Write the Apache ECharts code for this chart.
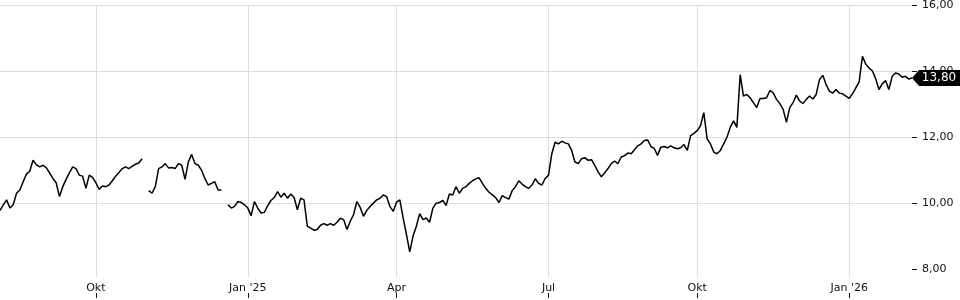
<!DOCTYPE html>
<html><head><meta charset="utf-8">
<script src="https://cdn.jsdelivr.net/npm/echarts@6/dist/echarts.min.js"></script>
<style>html,body{margin:0;padding:0;background:#fff}#c{width:960px;height:300px}</style>
</head><body><div id="c"></div>
<script>
const startDate = '2024-08-05';
const stepDays = 2;
const values = [
9.78, 9.95, 10.1, 9.85, 9.95, 10.3, 10.4, 10.65, 10.88, 10.97,
11.3, 11.17, 11.1, 11.15, 11.08, 10.92, 10.75, 10.62, 10.2, 10.5,
10.72, 10.92, 11.1, 11.05, 10.85, 10.82, 10.45, 10.85, 10.78, 10.62,
10.42, 10.52, 10.5, 10.55, 10.68, 10.82, 10.93, 11.05, 11.1, 11.05,
11.12, 11.18, 11.22, 11.35, null, 10.38, 10.3, 10.5, 11.05, 11.1,
11.2, 11.07, 11.08, 11.05, 11.2, 11.15, 10.72, 11.25, 11.48, 11.2,
11.15, 11.0, 10.75, 10.55, 10.6, 10.65, 10.4, 10.4, null, 9.95,
9.85, 9.9, 10.05, 10.02, 9.95, 9.85, 9.62, 10.05, 9.85, 9.7,
9.72, 9.92, 10.08, 10.17, 10.35, 10.18, 10.3, 10.15, 10.28, 10.17,
9.8, 10.15, 10.1, 9.3, 9.24, 9.18, 9.2, 9.33, 9.38, 9.33,
9.38, 9.33, 9.42, 9.54, 9.5, 9.2, 9.45, 9.65, 10.05, 9.87,
9.6, 9.78, 9.9, 10.0, 10.1, 10.15, 10.25, 10.2, 9.9, 9.75,
10.03, 10.1, 9.55, 9.05, 8.52, 9.0, 9.3, 9.68, 9.5, 9.55,
9.42, 9.85, 10.0, 10.02, 10.08, 9.93, 10.28, 10.25, 10.5, 10.3,
10.45, 10.5, 10.6, 10.68, 10.74, 10.77, 10.6, 10.45, 10.33, 10.25,
10.17, 10.02, 10.23, 10.17, 10.12, 10.38, 10.5, 10.68, 10.58, 10.5,
10.45, 10.55, 10.74, 10.6, 10.55, 10.75, 10.85, 11.5, 11.85, 11.8,
11.88, 11.83, 11.8, 11.6, 11.25, 11.2, 11.35, 11.38, 11.3, 11.32,
11.15, 10.95, 10.8, 10.92, 11.05, 11.2, 11.28, 11.2, 11.4, 11.44,
11.52, 11.5, 11.62, 11.74, 11.8, 11.9, 11.92, 11.72, 11.66, 11.45,
11.7, 11.72, 11.68, 11.74, 11.68, 11.65, 11.68, 11.78, 11.6, 12.05,
12.12, 12.2, 12.35, 12.75, 11.95, 11.8, 11.55, 11.5, 11.6, 11.8,
12.0, 12.3, 12.5, 12.3, 13.9, 13.25, 13.3, 13.2, 13.05, 12.9,
13.18, 13.18, 13.2, 13.42, 13.35, 13.15, 13.02, 12.85, 12.45, 12.9,
13.05, 13.28, 13.1, 13.02, 13.15, 13.25, 13.16, 13.3, 13.75, 13.88,
13.6, 13.4, 13.34, 13.45, 13.34, 13.32, 13.25, 13.18, 13.32, 13.5,
13.68, 14.46, 14.22, 14.1, 14.02, 13.78, 13.45, 13.62, 13.72, 13.45,
13.85, 13.95, 13.92, 13.82, 13.85, 13.77, 13.8
];
const tickIdx = [29, 75, 120, 166, 211, 257];
const tickLabels = ['Okt', "Jan '25", 'Apr', 'Jul', 'Okt', "Jan '26"];
const yTicks = [8, 10, 12, 14, 16];

const t0 = Date.parse(startDate + 'T00:00:00Z');
const categories = values.map((_, i) => new Date(t0 + i * stepDays * 86400000).toISOString().slice(0, 10));
const fmt = v => v.toFixed(2).replace('.', ',');
const isTick = i => tickIdx.indexOf(i) >= 0;
const last = values[values.length - 1];
const txt = '#111';
const font = 'DejaVu Sans';

const chart = echarts.init(document.getElementById('c'), null, {renderer: 'canvas'});
chart.setOption({
  animation: false,
  grid: {left: 0, right: 48, top: 4, bottom: 23, containLabel: false},
  xAxis: [{
    type: 'category', data: categories, boundaryGap: false,
    axisLine: {show: false}, axisTick: {show: false},
    axisLabel: {interval: (i) => isTick(i), formatter: (v, i) => tickLabels[tickIdx.indexOf(i)] || '',
      color: txt, fontFamily: font, fontSize: 11, margin: 6},
    splitLine: {show: true, interval: (i) => isTick(i), lineStyle: {color: '#dddddd', width: 1}}
  }, {
    type: 'category', data: categories, boundaryGap: false, position: 'bottom', offset: 16,
    axisLine: {show: false},
    axisTick: {show: true, interval: (i) => isTick(i), length: 5, lineStyle: {color: txt}},
    axisLabel: {show: false}, splitLine: {show: false}
  }],
  yAxis: {
    type: 'value', position: 'right', min: 7.758, max: 16, splitNumber: 4,
    axisLine: {show: false},
    axisTick: {show: true, length: 5, customValues: yTicks, lineStyle: {color: txt}},
    axisLabel: {customValues: yTicks, formatter: v => yTicks.indexOf(Math.round(v * 1000) / 1000) >= 0 ? fmt(v) : '',
      color: txt, fontFamily: font, fontSize: 11, margin: 10},
    splitLine: {show: true, showMinLine: false, lineStyle: {color: '#dddddd', width: 1}}
  },
  series: [{
    type: 'line', data: values, symbol: 'none', showSymbol: false, connectNulls: false,
    lineStyle: {color: '#000', width: 1.5},
    markPoint: {
      symbol: 'path://M0,8L7,0L48,0L48,16L7,16Z', symbolSize: [48, 16], symbolOffset: [24, 0],
      itemStyle: {color: '#000'},
      label: {show: true, color: '#fff', fontFamily: font, fontSize: 12, offset: [3, 0], formatter: fmt(last)},
      data: [{coord: [values.length - 1, last]}]
    }
  }]
});
</script></body></html>
